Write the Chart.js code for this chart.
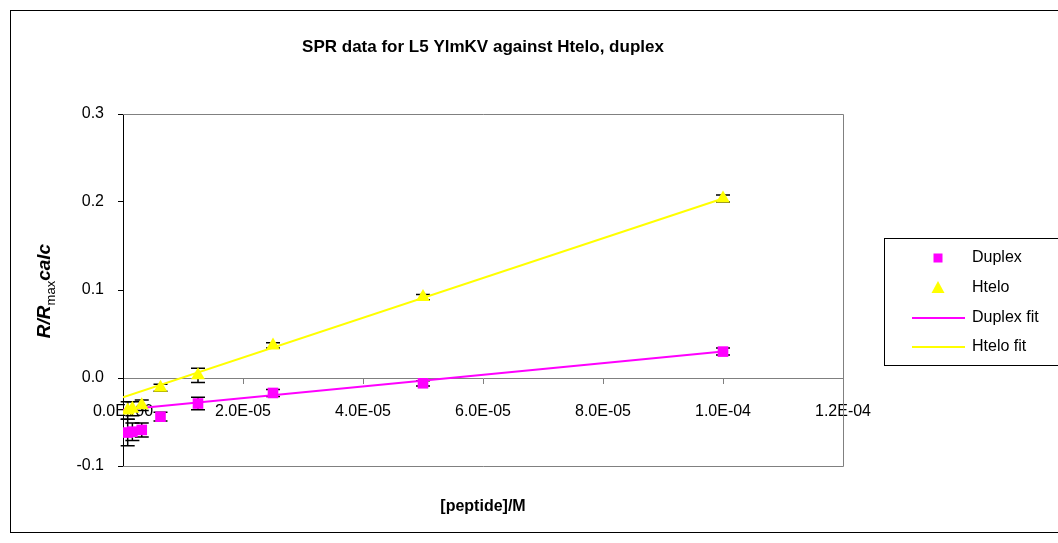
<!DOCTYPE html>
<html><head><meta charset="utf-8">
<script src="https://cdn.jsdelivr.net/npm/chart.js@4/dist/chart.umd.min.js"></script>
<style>html,body{margin:0;padding:0;background:#fff}#wrap{width:1058px;height:543px}</style>
</head><body><div id="wrap"><canvas id="c" width="1058" height="543"></canvas></div>
<script>
const titleText = 'SPR data for L5 YlmKV against Htelo, duplex';
const xAxisTitle = '[peptide]/M';
const legendLabels = ['Duplex', 'Htelo', 'Duplex fit', 'Htelo fit'];
const concentrations = [1e-4, 5e-5, 2.5e-5, 1.25e-5, 6.25e-6, 3.125e-6, 1.5625e-6, 7.8125e-7];
const duplexValues = [0.030, -0.006, -0.017, -0.029, -0.044, -0.059, -0.061, -0.062];
const duplexErrors = [0.004, 0.003, 0.004, 0.007, 0.005, 0.008, 0.010, 0.015];
const hteloValues = [0.204, 0.092, 0.037, 0.003, -0.011, -0.031, -0.035, -0.037];
const hteloErrors = [0.004, 0.003, 0.003, 0.008, 0.004, 0.006, 0.008, 0.010];
const fitX = [0, 1e-4];
const duplexFit = [-0.036, 0.030];
const hteloFit = [-0.022, 0.204];
const xTicks = [0, 2e-5, 4e-5, 6e-5, 8e-5, 1e-4, 1.2e-4];
const yTicks = [-0.1, 0, 0.1, 0.2, 0.3];

const MAGENTA = '#FF00FF', YELLOW = '#FFFF00';
const FONT = "'Liberation Sans', Arial, sans-serif";

function toPts(xs, ys){ return xs.map((x,i)=>({x:x, y:ys[i]})); }
function excelExp(v){
  if (Math.abs(v) < 1e-15) return '0.0E+00';
  const s = v.toExponential(1); const [m, e] = s.split('e');
  const n = parseInt(e,10); const sign = n < 0 ? '-' : '+';
  return m + 'E' + sign + String(Math.abs(n)).padStart(2,'0');
}

const errorSets = [
  {ds: 0, err: duplexErrors},
  {ds: 1, err: hteloErrors}
];

const decor = {
  id: 'decor',
  beforeDraw(chart){
    const ctx = chart.ctx;
    ctx.save();
    ctx.fillStyle = '#fff'; ctx.fillRect(0,0,chart.width,chart.height);
    ctx.strokeStyle = '#000'; ctx.lineWidth = 1;
    ctx.strokeRect(10.5, 10.5, 1100, 522);
    ctx.fillStyle = '#000';
    ctx.textAlign = 'center'; ctx.textBaseline = 'middle';
    ctx.font = 'bold 17px ' + FONT;
    ctx.fillText(titleText, 483, 47);
    ctx.font = 'bold 16px ' + FONT;
    ctx.fillText(xAxisTitle, 483, 507);
    ctx.translate(45, 291); ctx.rotate(-Math.PI/2);
    const parts = [
      {t:'R/R', f:'italic bold 19px ' + FONT, dy:0},
      {t:'max', f:'13px ' + FONT, dy:6},
      {t:'calc', f:'italic bold 19px ' + FONT, dy:0}
    ];
    let total = 0;
    parts.forEach(p=>{ ctx.font = p.f; p.w = ctx.measureText(p.t).width; total += p.w; });
    let x = -total/2; ctx.textAlign = 'left';
    parts.forEach(p=>{ ctx.font = p.f; ctx.fillText(p.t, x, p.dy); x += p.w; });
    ctx.restore();
  },
  beforeDatasetsDraw(chart){
    const ctx = chart.ctx, a = chart.chartArea;
    const xs = chart.scales.x, ys = chart.scales.y;
    ctx.save();
    ctx.strokeStyle = '#808080'; ctx.lineWidth = 1;
    ctx.beginPath();
    ctx.moveTo(a.left, a.top + 0.5); ctx.lineTo(a.right + 0.5, a.top + 0.5);
    ctx.lineTo(a.right + 0.5, a.bottom + 0.5); ctx.lineTo(a.left, a.bottom + 0.5);
    ctx.stroke();
    ctx.strokeStyle = '#000'; ctx.lineWidth = 1.5;
    errorSets.forEach(es=>{
      const vals = chart.data.datasets[es.ds].data;
      vals.forEach((p,i)=>{
        const px = xs.getPixelForValue(p.x);
        const yTop = ys.getPixelForValue(p.y + es.err[i]);
        const yBot = ys.getPixelForValue(p.y - es.err[i]);
        ctx.beginPath();
        ctx.moveTo(px, yTop); ctx.lineTo(px, yBot);
        ctx.moveTo(px - 7, yTop); ctx.lineTo(px + 7, yTop);
        ctx.moveTo(px - 7, yBot); ctx.lineTo(px + 7, yBot);
        ctx.stroke();
      });
    });
    ctx.restore();
  },
  afterDraw(chart){
    const ctx = chart.ctx;
    ctx.save();
    ctx.strokeStyle = '#000'; ctx.lineWidth = 1;
    ctx.fillStyle = '#fff';
    ctx.fillRect(884.5, 238.5, 200, 127);
    ctx.strokeRect(884.5, 238.5, 200, 127);
    const ys = [258, 288, 318, 347];
    const mx = 938;
    ctx.font = '16px ' + FONT; ctx.textBaseline = 'middle'; ctx.textAlign = 'left';
    ctx.fillStyle = MAGENTA; ctx.fillRect(mx - 4.5, ys[0] - 4.5, 9, 9);
    ctx.fillStyle = YELLOW; ctx.beginPath();
    ctx.moveTo(mx, ys[1] - 7); ctx.lineTo(mx + 6.5, ys[1] + 5); ctx.lineTo(mx - 6.5, ys[1] + 5); ctx.closePath(); ctx.fill();
    ctx.lineWidth = 2;
    ctx.strokeStyle = MAGENTA; ctx.beginPath(); ctx.moveTo(912, ys[2]); ctx.lineTo(965, ys[2]); ctx.stroke();
    ctx.strokeStyle = YELLOW; ctx.beginPath(); ctx.moveTo(912, ys[3]); ctx.lineTo(965, ys[3]); ctx.stroke();
    ctx.fillStyle = '#000';
    legendLabels.forEach((t,i)=>ctx.fillText(t, 972, ys[i]));
    ctx.restore();
  }
};

new Chart(document.getElementById('c'), {
  type: 'scatter',
  data: {
    datasets: [
      {label: legendLabels[0], data: toPts(concentrations, duplexValues), pointStyle: 'rect', pointRadius: 7.5, pointHoverRadius: 7.5,
       backgroundColor: MAGENTA, borderColor: MAGENTA, borderWidth: 0, order: 1},
      {label: legendLabels[1], data: toPts(concentrations, hteloValues), pointStyle: 'triangle', pointRadius: 8, pointHoverRadius: 8,
       backgroundColor: YELLOW, borderColor: YELLOW, borderWidth: 0, order: 0},
      {label: legendLabels[2], data: toPts(fitX, duplexFit), showLine: true, pointRadius: 0, borderColor: MAGENTA, borderWidth: 2, order: 3},
      {label: legendLabels[3], data: toPts(fitX, hteloFit), showLine: true, pointRadius: 0, borderColor: YELLOW, borderWidth: 2, order: 2}
    ]
  },
  options: {
    responsive: false, animation: false, devicePixelRatio: 1,
    layout: {padding: {left: 0, top: 114, right: 215, bottom: 77}},
    plugins: {legend: {display: false}, tooltip: {enabled: false}, title: {display: false}},
    scales: {
      x: {
        type: 'linear', position: {y: 0}, min: 0, max: 1.2e-4,
        afterBuildTicks: s => { s.ticks = xTicks.map(v=>({value:v})); },
        afterFit: s => { s.height = 0; },
        ticks: {color: '#000', font: {family: FONT, size: 16}, padding: 19, maxRotation: 0, autoSkip: false,
                callback: v => excelExp(v)},
        grid: {drawOnChartArea: false, drawTicks: true, tickLength: 5, color: '#808080'},
        border: {color: '#808080', width: 1}
      },
      y: {
        min: -0.1, max: 0.3,
        afterBuildTicks: s => { s.ticks = yTicks.map(v=>({value:v})); },
        afterFit: s => { s.width = 123; },
        ticks: {color: '#000', font: {family: FONT, size: 16}, padding: 14, callback: v => v.toFixed(1)},
        grid: {drawOnChartArea: false, drawTicks: true, tickLength: 5, color: '#000'},
        border: {color: '#000', width: 1}
      }
    }
  },
  plugins: [decor]
});
</script></body></html>
